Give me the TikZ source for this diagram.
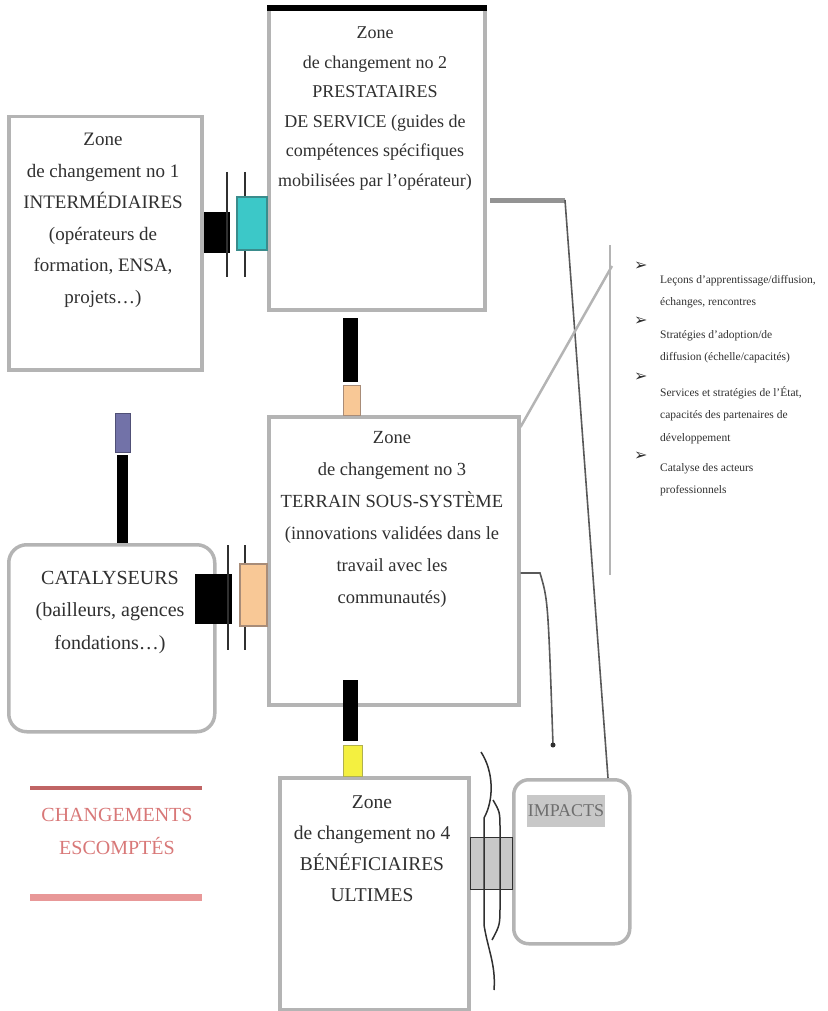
\documentclass[tikz,border=0pt]{standalone}
\usepackage{fontspec}
\setmainfont{Liberation Serif}
\newfontfamily\symfont{DejaVu Sans}
\definecolor{boxgray}{HTML}{B4B4B4}
\definecolor{txtgray}{HTML}{303030}
\definecolor{cyanc}{HTML}{3CC8C8}
\definecolor{cyand}{HTML}{3A8C8C}
\definecolor{peach}{HTML}{F8C896}
\definecolor{peachd}{HTML}{A88C78}
\definecolor{purp}{HTML}{7272A8}
\definecolor{yell}{HTML}{F4F040}
\definecolor{yelld}{HTML}{B0B050}
\definecolor{redd}{HTML}{C06464}
\definecolor{redl}{HTML}{E89898}
\definecolor{redt}{HTML}{D87878}
\definecolor{impg}{HTML}{C8C8C8}
\begin{document}
\begin{tikzpicture}[x=1pt,y=-1pt,
  zbox/.style={draw=boxgray, line width=3.5pt, fill=white},
  rbox/.style={draw=boxgray, line width=3.5pt, fill=white, rounded corners=18pt},
  ztxt/.style={anchor=north, align=center, text=txtgray, font=\fontsize{19}{31.5}\selectfont, inner sep=0pt},
  btxt/.style={anchor=north west, align=left, text=txtgray, font=\fontsize{11.5}{22.5}\selectfont, inner sep=0pt},
  bul/.style={anchor=north west, text=txtgray, font=\symfont\fontsize{16}{16}\selectfont, inner sep=0pt},
  thinl/.style={draw=txtgray!80, line width=1.6pt},
  grayl/.style={draw=boxgray, line width=2.5pt}]
\useasboundingbox (0,0) rectangle (827,1011);

% boxes
\node[zbox, minimum width=193pt, minimum height=253pt, anchor=north west] (b1) at (7,115) {};
\node[zbox, minimum width=216pt, minimum height=300pt, anchor=north west] (b2) at (267,8) {};
\draw[line width=6pt, black] (b2.north west) -- (b2.north east);
\node[zbox, minimum width=250pt, minimum height=288pt, anchor=north west] (b3) at (267,415) {};
\node[zbox, minimum width=189pt, minimum height=232pt, anchor=north west] (b4) at (278,776) {};
\node[rbox, minimum width=206pt, minimum height=187pt, anchor=north west] (cat) at (7,543) {};
\node[rbox, rounded corners=15pt, minimum width=116pt, minimum height=164pt, anchor=north west] (imp) at (512,778) {};

% texts
\node[ztxt] (t1) at (103,133) {Zone\\de changement no 1\\INTERMÉDIAIRES\\(opérateurs de\\formation, ENSA,\\projets…)};
\node[ztxt, font=\fontsize{18}{29.5}\selectfont] (t2) at (375,27) {Zone\\de changement no 2\\PRESTATAIRES\\DE SERVICE (guides de\\compétences spécifiques\\mobilisées par l’opérateur)};
\node[ztxt, font=\fontsize{18.5}{32}\selectfont] (t3) at (392,431) {Zone\\de changement no 3\\TERRAIN SOUS-SYSTÈME\\(innovations validées dans le\\travail avec les\\communautés)};
\node[ztxt, font=\fontsize{19.5}{31}\selectfont] (t4) at (372,796) {Zone\\de changement no 4\\BÉNÉFICIAIRES\\ULTIMES};
\node[ztxt, font=\fontsize{20}{32.5}\selectfont] (tc) at (110,571) {CATALYSEURS\\(bailleurs, agences\\fondations…)};
\node[fill=impg, text=txtgray!70, font=\fontsize{18}{18}\selectfont, minimum width=78pt, minimum height=32pt, inner sep=0pt] (ti) at (566,811) {IMPACTS};

% expected changes
\node[anchor=north, align=center, text=redt, font=\fontsize{20}{33}\selectfont, inner sep=0pt] (esc) at (117,808) {CHANGEMENTS\\ESCOMPTÉS};
\coordinate (r1a) at (30,788);
\coordinate (r1b) at (202,788);
\coordinate (r2a) at (30,897);
\coordinate (r2b) at (202,897);
\draw[redd, line width=4pt] (r1a) -- (r1b);
\draw[redl, line width=7pt] (r2a) -- (r2b);

% connector b1 -> b2
\fill[black] (b1.east |- 0,212) rectangle (230,253);
\draw[txtgray, line width=1.5pt] (227,172) -- (227,277) (245,172) -- (245,277);
\draw[cyand, fill=cyanc, line width=1.2pt] (237,197) rectangle (b2.west |- 0,250);

% connector cat -> b3
\fill[black] (195,574) rectangle (232,624);
\draw[txtgray, line width=1.5pt] (228,545) -- (228,650) (245,545) -- (245,650);
\draw[peachd, fill=peach, line width=1.2pt] (240,564) rectangle (b3.west |- 0,626);

% b2 -> b3
\fill[black] (343,318) rectangle (358,382);
\draw[peachd, fill=peach, line width=1pt] (343,385) rectangle (b3.north -| 360,0);

% b3 -> b4
\fill[black] (343,680) rectangle (358,741);
\draw[yelld, fill=yell, line width=1pt] (343,745) rectangle (b4.north -| 362,0);

% cat -> up
\fill[black] (cat.north -| 117,0) rectangle (128,455);
\draw[purp!70!black, fill=purp, line width=1pt] (115,413) rectangle (130,452);

% b4 <-> imp
\draw[txtgray, line width=1pt, fill=impg] (b4.east |- 0,837) rectangle (imp.west |- 0,889);
\draw[txtgray, line width=1.5pt] (481,752) .. controls (494,772) and (494,800) .. (484,818) -- (484,925) .. controls (488,950) and (496,965) .. (494,990);
\draw[txtgray, line width=1.5pt] (493,800) .. controls (500,812) .. (500,830) -- (500,905) .. controls (500,925) .. (492,940);

% b2 -> imp
\coordinate (k0) at (490,200);
\coordinate (k1) at (565,200);
\draw[draw=gray!85, line width=5pt] (k0) -- (k1);
\draw[thinl] (k1) -- (imp.north -| 608,0);

% b3 -> bracket
\coordinate (k2) at (612,266);
\draw[grayl] ([yshift=-12pt]b3.north east) -- (k2);
\draw[grayl] (610,245) -- (610,575);

% b3 -> imp (arrow)
\coordinate (k3) at (553,745);
\draw[thinl] (b3.east |- 0,573) -- (540,573) .. controls (548,600) .. (k3);
\fill[txtgray] (k3) circle (2.5pt);

% bullets
\node[bul] (u1) at (634,262) {➢};
\node[btxt] (v1) at (660,275) {Leçons d’apprentissage/diffusion,\\échanges, rencontres};
\node[bul] (u2) at (634,317) {➢};
\node[btxt] (v2) at (660,330) {Stratégies d’adoption/de\\diffusion (échelle/capacités)};
\node[bul] (u3) at (634,373) {➢};
\node[btxt] (v3) at (660,386) {Services et stratégies de l’État,\\capacités des partenaires de\\développement};
\node[bul] (u4) at (634,452) {➢};
\node[btxt] (v4) at (660,463) {Catalyse des acteurs\\professionnels};
\end{tikzpicture}
\end{document}
